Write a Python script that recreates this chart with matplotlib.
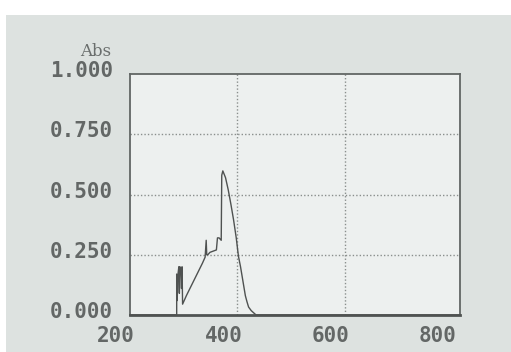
import numpy as np
import matplotlib.pyplot as plt
import matplotlib.transforms as mtransforms
from matplotlib.patches import Rectangle

# absorbance scan, wavelength in nm
wavelength = [200, 287, 287, 288, 289, 291, 292, 293, 295, 296, 297, 298,
              305, 315, 325, 335, 340, 342, 343, 345, 349, 355, 361, 363,
              366, 370, 371, 373, 378, 383, 388, 393, 398, 402, 406, 409,
              412, 415, 418, 421, 426, 431, 435, 815]
absorbance = [0, 0, 0.17, 0.06, 0.16, 0.20, 0.09, 0.20, 0.19, 0.11, 0.20, 0.045,
              0.08, 0.125, 0.17, 0.215, 0.24, 0.31, 0.25, 0.25, 0.26, 0.265, 0.27, 0.32,
              0.32, 0.31, 0.58, 0.598, 0.57, 0.52, 0.46, 0.395, 0.32, 0.245, 0.20, 0.16,
              0.12, 0.08, 0.055, 0.033, 0.018, 0.008, 0.0, 0.0]

xticks = [200, 400, 600, 800]
yticks = [0.0, 0.25, 0.5, 0.75, 1.0]

ink = '#636766'
screen = '#dde2e0'

fig = plt.figure(figsize=(5.11, 3.52), dpi=100, facecolor='white')
# lcd backdrop
fig.patches.append(Rectangle((6 / 511, 0), 1, 1 - 15 / 352, transform=fig.transFigure,
                             facecolor=screen, edgecolor='none', zorder=-5))

ax = fig.add_axes([130 / 511, 1 - 315 / 352, 330 / 511, 241 / 352])
ax.set_facecolor('#edf0ef')
ax.plot(wavelength, absorbance, color='#4f5251', lw=1.0, clip_on=False, zorder=3)

ax.set_xlim(200, 815)
ax.set_ylim(0, 1)

ax.set_xticks(xticks)
ax.set_xticklabels([str(v) for v in xticks])
ax.set_yticks(yticks)
ax.set_yticklabels([f'{v:.3f}' for v in yticks])
ax.tick_params(length=0, colors=ink, labelsize=15)
ax.tick_params(axis='x', pad=8)
ax.tick_params(axis='y', pad=12)
for lab in ax.get_xticklabels() + ax.get_yticklabels():
    lab.set_family('DejaVu Sans Mono')
    lab.set_weight('bold')
    lab.set_color(ink)
for lab in ax.get_xticklabels():
    lab.set_horizontalalignment('right')
    lab.set_transform(lab.get_transform() + mtransforms.ScaledTranslation(0.05, 0, fig.dpi_scale_trans))
for lab in ax.get_yticklabels():
    lab.set_transform(lab.get_transform() + mtransforms.ScaledTranslation(0, 0.05, fig.dpi_scale_trans))

# dotted grid at the inner divisions only
for x in [400, 600]:
    ax.axvline(x, color='#8a8f8d', lw=1.0, ls=(0, (1, 1.5)), zorder=1)
for y in [0.25, 0.5, 0.75]:
    ax.axhline(y, color='#8a8f8d', lw=1.0, ls=(0, (1, 1.5)), zorder=1)

for side in ['left', 'right', 'top']:
    ax.spines[side].set_color('#626665')
    ax.spines[side].set_linewidth(1.3)
ax.spines['bottom'].set_color('#505453')
ax.spines['bottom'].set_linewidth(2.0)

fig.text(96 / 511, 1 - 51 / 352, 'Abs', family='DejaVu Serif', fontsize=12,
         color='#6a6e6d', ha='center', va='center')

fig.savefig('out.png', dpi=100, facecolor=fig.get_facecolor())
